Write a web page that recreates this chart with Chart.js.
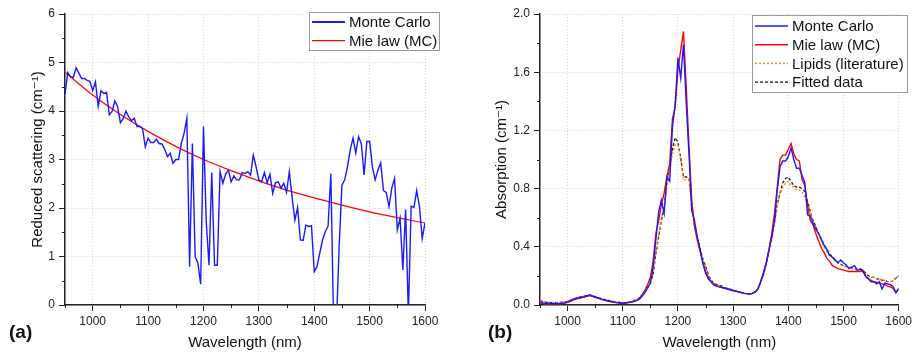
<!DOCTYPE html>
<html>
<head>
<meta charset="utf-8">
<script src="https://cdn.jsdelivr.net/npm/chart.js@4.4.1/dist/chart.umd.min.js"></script>
<style>
  html, body { margin: 0; padding: 0; background: #fff; }
  #wrap { position: relative; width: 915px; height: 356px; }
  canvas { position: absolute; top: 0; }
  #chart-a { left: 0; }
  #chart-b { left: 457px; }
</style>
</head>
<body>
<div id="wrap">
  <canvas id="chart-a" width="457" height="356"></canvas>
  <canvas id="chart-b" width="458" height="356"></canvas>
</div>
<script>
// Longueurs d'onde (nm), pas de 5 nm
const wavelengths = [
  950, 955, 960, 965, 970, 975, 980, 985, 990, 995,
  1000, 1005, 1010, 1015, 1020, 1025, 1030, 1035, 1040, 1045,
  1050, 1055, 1060, 1065, 1070, 1075, 1080, 1085, 1090, 1095,
  1100, 1105, 1110, 1115, 1120, 1125, 1130, 1135, 1140, 1145,
  1150, 1155, 1160, 1165, 1170, 1175, 1180, 1185, 1190, 1195,
  1200, 1205, 1210, 1215, 1220, 1225, 1230, 1235, 1240, 1245,
  1250, 1255, 1260, 1265, 1270, 1275, 1280, 1285, 1290, 1295,
  1300, 1305, 1310, 1315, 1320, 1325, 1330, 1335, 1340, 1345,
  1350, 1355, 1360, 1365, 1370, 1375, 1380, 1385, 1390, 1395,
  1400, 1405, 1410, 1415, 1420, 1425, 1430, 1435, 1440, 1445,
  1450, 1455, 1460, 1465, 1470, 1475, 1480, 1485, 1490, 1495,
  1500, 1505, 1510, 1515, 1520, 1525, 1530, 1535, 1540, 1545,
  1550, 1555, 1560, 1565, 1570, 1575, 1580, 1585, 1590, 1595,
  1600
];

// (a) Diffusion réduite - Monte Carlo
const scatterMC = [
  4.35, 4.79, 4.71, 4.69, 4.89, 4.78, 4.67, 4.67, 4.63, 4.61,
  4.42, 4.60, 4.09, 4.42, 4.36, 4.38, 3.92, 3.99, 4.21, 4.09,
  3.76, 3.84, 4.00, 3.88, 3.80, 3.85, 3.68, 3.68, 3.64, 3.26,
  3.44, 3.35, 3.35, 3.42, 3.33, 3.32, 3.21, 3.06, 3.13, 2.92,
  3.00, 3.00, 3.33, 3.54, 3.85, 0.79, 3.33, 1.00, 0.86, 0.43,
  3.68, 1.72, 0.82, 2.73, 0.82, 0.82, 2.75, 2.51, 2.70, 2.78,
  2.54, 2.66, 2.58, 2.58, 2.73, 2.71, 2.75, 2.68, 3.09, 2.85,
  2.58, 2.54, 2.73, 2.52, 2.70, 2.30, 2.52, 2.54, 2.41, 2.51,
  2.32, 2.75, 2.23, 1.75, 2.01, 1.34, 1.33, 1.65, 1.62, 1.63,
  0.69, 0.79, 1.07, 1.34, 1.51, 1.63, 2.71, -0.4, -0.4, 1.20,
  2.47, 2.58, 2.85, 3.20, 3.44, 3.13, 3.47, 3.33, 2.68, 3.37,
  3.37, 2.85, 2.58, 2.78, 2.93, 2.36, 2.32, 2.03, 2.41, 2.61,
  1.55, 1.79, 0.72, 1.97, -0.2, 2.04, 2.01, 2.36, 2.03, 1.37,
  1.70
];

// (a) Loi de Mie (MC), lue tous les 50 nm
const mieWavelengths = [950, 1000, 1050, 1100, 1150, 1200, 1250, 1300, 1350, 1400, 1450, 1500, 1550, 1600];
const scatterMie = [4.80, 4.33, 3.93, 3.58, 3.27, 3.00, 2.77, 2.56, 2.37, 2.21, 2.06, 1.92, 1.80, 1.69];

// (b) Absorption
const absMC = [
  0.02, 0.015, 0.01, 0.01, 0.01, 0.01, 0.01, 0.01, 0.01, 0.015,
  0.02, 0.03, 0.04, 0.045, 0.05, 0.055, 0.057, 0.062, 0.068, 0.062,
  0.055, 0.048, 0.04, 0.035, 0.03, 0.026, 0.023, 0.02, 0.016, 0.014,
  0.012, 0.013, 0.016, 0.02, 0.023, 0.03, 0.04, 0.06, 0.085, 0.115,
  0.15, 0.26, 0.45, 0.64, 0.72, 0.63, 0.88, 0.85, 1.22, 1.38,
  1.70, 1.56, 1.79, 1.39, 1.04, 0.65, 0.58, 0.47, 0.38, 0.29,
  0.22, 0.18, 0.16, 0.14, 0.13, 0.125, 0.12, 0.115, 0.11, 0.105,
  0.10, 0.095, 0.09, 0.085, 0.08, 0.078, 0.075, 0.08, 0.09, 0.11,
  0.16, 0.22, 0.29, 0.38, 0.47, 0.58, 0.79, 0.95, 0.99, 0.99,
  1.02, 1.08, 1.00, 0.94, 0.94, 0.89, 0.84, 0.62, 0.61, 0.56,
  0.52, 0.49, 0.45, 0.41, 0.38, 0.34, 0.33, 0.31, 0.29, 0.31,
  0.29, 0.275, 0.25, 0.26, 0.27, 0.24, 0.245, 0.23, 0.20, 0.18,
  0.16, 0.16, 0.145, 0.16, 0.11, 0.15, 0.145, 0.14, 0.125, 0.085,
  0.11
];

const absMie = [
  0.015, 0.01, 0.008, 0.007, 0.007, 0.008, 0.008, 0.008, 0.01, 0.013,
  0.018, 0.025, 0.033, 0.04, 0.045, 0.05, 0.055, 0.06, 0.065, 0.06,
  0.053, 0.047, 0.04, 0.035, 0.03, 0.026, 0.022, 0.018, 0.015, 0.013,
  0.012, 0.013, 0.016, 0.02, 0.025, 0.032, 0.045, 0.07, 0.10, 0.14,
  0.19, 0.30, 0.49, 0.58, 0.69, 0.77, 0.88, 0.97, 1.28, 1.36,
  1.62, 1.75, 1.88, 1.50, 1.09, 0.72, 0.54, 0.45, 0.37, 0.30,
  0.23, 0.19, 0.16, 0.14, 0.13, 0.125, 0.12, 0.115, 0.11, 0.105,
  0.10, 0.095, 0.09, 0.085, 0.08, 0.078, 0.075, 0.08, 0.09, 0.11,
  0.16, 0.22, 0.29, 0.38, 0.49, 0.63, 0.81, 1.00, 1.03, 1.03,
  1.07, 1.11, 1.04, 1.00, 0.99, 0.86, 0.82, 0.68, 0.58, 0.55,
  0.49, 0.44, 0.39, 0.36, 0.32, 0.30, 0.27, 0.26, 0.25, 0.245,
  0.24, 0.235, 0.23, 0.23, 0.23, 0.23, 0.23, 0.24, 0.195, 0.18,
  0.17, 0.16, 0.155, 0.15, 0.145, 0.14, 0.13, 0.125, 0.115, 0.085,
  0.115
];

const absLipids = [
  0.03, 0.025, 0.02, 0.018, 0.017, 0.017, 0.017, 0.018, 0.02, 0.022,
  0.026, 0.032, 0.04, 0.046, 0.052, 0.057, 0.061, 0.065, 0.068, 0.064,
  0.058, 0.052, 0.046, 0.04, 0.035, 0.031, 0.027, 0.023, 0.02, 0.018,
  0.017, 0.018, 0.02, 0.024, 0.03, 0.038, 0.05, 0.07, 0.095, 0.125,
  0.16, 0.22, 0.36, 0.48, 0.60, 0.68, 0.82, 0.94, 1.04, 1.10,
  1.10, 1.00, 0.86, 0.86, 0.86, 0.68, 0.54, 0.45, 0.38, 0.31,
  0.26, 0.20, 0.17, 0.15, 0.14, 0.13, 0.125, 0.12, 0.115, 0.11,
  0.10, 0.095, 0.09, 0.085, 0.08, 0.077, 0.075, 0.08, 0.09, 0.11,
  0.16, 0.21, 0.28, 0.37, 0.45, 0.56, 0.68, 0.77, 0.81, 0.84,
  0.85, 0.82, 0.81, 0.79, 0.79, 0.78, 0.74, 0.70, 0.63, 0.57,
  0.53, 0.48, 0.44, 0.40, 0.37, 0.34, 0.32, 0.30, 0.29, 0.275,
  0.27, 0.26, 0.26, 0.25, 0.245, 0.24, 0.245, 0.24, 0.21, 0.195,
  0.19, 0.19, 0.18, 0.18, 0.17, 0.17, 0.16, 0.16, 0.165, 0.185,
  0.20
];

const absFitted = [
  0.03, 0.025, 0.02, 0.018, 0.017, 0.017, 0.017, 0.018, 0.02, 0.022,
  0.026, 0.032, 0.04, 0.046, 0.052, 0.057, 0.061, 0.065, 0.068, 0.064,
  0.058, 0.052, 0.046, 0.04, 0.035, 0.031, 0.027, 0.023, 0.02, 0.018,
  0.017, 0.018, 0.02, 0.024, 0.03, 0.038, 0.05, 0.07, 0.095, 0.125,
  0.15, 0.21, 0.35, 0.47, 0.58, 0.67, 0.84, 0.96, 1.07, 1.15,
  1.12, 1.01, 0.88, 0.88, 0.87, 0.70, 0.55, 0.46, 0.39, 0.32,
  0.27, 0.21, 0.17, 0.15, 0.14, 0.135, 0.13, 0.12, 0.115, 0.11,
  0.10, 0.095, 0.09, 0.085, 0.08, 0.077, 0.075, 0.08, 0.09, 0.11,
  0.16, 0.21, 0.28, 0.37, 0.46, 0.57, 0.69, 0.77, 0.84, 0.87,
  0.88, 0.85, 0.82, 0.81, 0.81, 0.80, 0.78, 0.71, 0.64, 0.58,
  0.54, 0.49, 0.45, 0.41, 0.38, 0.35, 0.33, 0.31, 0.29, 0.28,
  0.27, 0.265, 0.26, 0.255, 0.25, 0.245, 0.25, 0.24, 0.22, 0.20,
  0.19, 0.19, 0.18, 0.18, 0.17, 0.17, 0.16, 0.16, 0.165, 0.185,
  0.20
];

// Graduations
const xTicks = [1000, 1100, 1200, 1300, 1400, 1500, 1600];
const xMinorTicks = [950, 1050, 1150, 1250, 1350, 1450, 1550];
const scatterTicks = [0, 1, 2, 3, 4, 5, 6];
const scatterMinorTicks = [0.5, 1.5, 2.5, 3.5, 4.5, 5.5];
const absTicks = [0, 0.4, 0.8, 1.2, 1.6, 2.0];
const absMinorTicks = [0.2, 0.6, 1.0, 1.4, 1.8];

const FONT = "'Liberation Sans', Arial, 'DejaVu Sans', sans-serif";
const AXIS_COLOR = '#222';
const GRID_COLOR = '#d4d4d4';

Chart.defaults.font.family = FONT;
Chart.defaults.color = '#111';

function toPoints(xs, ys) {
    return xs.map((x, i) => ({ x: x, y: ys[i] }));
}

// Plugin : graduations secondaires, légende encadrée, lettre du panneau
const overlayPlugin = {
    id: 'overlay',
    afterDraw(chart, args, opts) {
        const ctx = chart.ctx;
        const area = chart.chartArea;
        const xs = chart.scales.x;
        const ys = chart.scales.y;
        ctx.save();

        // graduations secondaires
        ctx.strokeStyle = AXIS_COLOR;
        ctx.lineWidth = 1;
        opts.minorX.forEach(v => {
            const px = Math.round(xs.getPixelForValue(v)) + 0.5;
            ctx.beginPath();
            ctx.moveTo(px, area.bottom);
            ctx.lineTo(px, area.bottom + 3);
            ctx.stroke();
        });
        opts.minorY.forEach(v => {
            const py = Math.round(ys.getPixelForValue(v)) + 0.5;
            ctx.beginPath();
            ctx.moveTo(area.left, py);
            ctx.lineTo(area.left - 3, py);
            ctx.stroke();
        });

        // légende
        const lg = opts.legend;
        ctx.fillStyle = '#fff';
        ctx.fillRect(lg.x, lg.y, lg.w, lg.h);
        ctx.strokeStyle = '#9a9a9a';
        ctx.lineWidth = 1;
        ctx.strokeRect(lg.x + 0.5, lg.y + 0.5, lg.w, lg.h);
        ctx.font = '15px ' + FONT;
        ctx.textBaseline = 'middle';
        ctx.textAlign = 'left';
        chart.data.datasets.forEach((ds, i) => {
            const y = lg.y + lg.first + i * lg.step;
            ctx.strokeStyle = ds.borderColor;
            ctx.lineWidth = ds.legendWidth || ds.borderWidth;
            ctx.setLineDash(ds.borderDash || []);
            ctx.beginPath();
            ctx.moveTo(lg.x + 3, y);
            ctx.lineTo(lg.x + 36, y);
            ctx.stroke();
            ctx.setLineDash([]);
            ctx.fillStyle = '#111';
            ctx.fillText(ds.label, lg.x + 40, y + 1);
        });

        // lettre du panneau
        ctx.font = 'bold 19px ' + FONT;
        ctx.fillStyle = '#111';
        ctx.fillText(opts.letter, opts.letterX, 333);

        ctx.restore();
    }
};

function makeScales(yTicks, yTitle, yWidth, yTitlePad, yMax, yFmt) {
    return {
        x: {
            type: 'linear',
            min: 950,
            max: 1600,
            afterBuildTicks: (scale) => { scale.ticks = xTicks.map(v => ({ value: v })); },
            afterFit: (scale) => { scale.height = 51; },
            ticks: { font: { size: 12 }, color: '#222', padding: 3, maxRotation: 0, autoSkip: false, callback: v => String(v) },
            grid: { color: GRID_COLOR, lineWidth: 1, tickColor: AXIS_COLOR, tickLength: 6 },
            border: { color: AXIS_COLOR, width: 1.5, dash: [1, 2] },
            title: { display: true, text: 'Wavelength (nm)', font: { size: 15 }, color: '#111', padding: { top: 0, bottom: 4 } }
        },
        y: {
            type: 'linear',
            min: 0,
            max: yMax,
            afterBuildTicks: (scale) => { scale.ticks = yTicks.map(v => ({ value: v })); },
            afterFit: (scale) => { scale.width = yWidth; },
            ticks: { font: { size: 12 }, color: '#222', padding: 4, callback: yFmt },
            grid: { color: GRID_COLOR, lineWidth: 1, tickColor: AXIS_COLOR, tickLength: 6 },
            border: { color: AXIS_COLOR, width: 1.5, dash: [1, 2] },
            title: { display: true, text: yTitle, font: { size: 15 }, color: '#111', padding: { top: yTitlePad, bottom: 0 } }
        }
    };
}

// Graphique (a)
new Chart(document.getElementById('chart-a').getContext('2d'), {
    type: 'line',
    data: {
        datasets: [
            {
                label: 'Monte Carlo',
                data: toPoints(wavelengths, scatterMC),
                borderColor: '#1a1aff',
                borderWidth: 1.4,
                legendWidth: 2.2,
                pointRadius: 0,
                tension: 0
            },
            {
                label: 'Mie law (MC)',
                data: toPoints(mieWavelengths, scatterMie),
                borderColor: '#ff0000',
                borderWidth: 1.2,
                pointRadius: 0,
                cubicInterpolationMode: 'monotone'
            }
        ]
    },
    options: {
        responsive: false,
        animation: false,
        events: [],
        layout: { padding: { top: 14, right: 32, bottom: 0, left: 0 } },
        plugins: {
            legend: { display: false },
            tooltip: { enabled: false },
            overlay: {
                minorX: xMinorTicks,
                minorY: scatterMinorTicks,
                legend: { x: 309, y: 12, w: 130, h: 38, first: 10, step: 18.7 },
                letter: '(a)',
                letterX: 9
            }
        },
        scales: makeScales(scatterTicks, 'Reduced scattering (cm⁻¹)', 65, 28.5, 6, v => String(v))
    },
    plugins: [overlayPlugin]
});

// Graphique (b)
new Chart(document.getElementById('chart-b').getContext('2d'), {
    type: 'line',
    data: {
        datasets: [
            {
                label: 'Monte Carlo',
                data: toPoints(wavelengths, absMC),
                borderColor: '#1a1aff',
                borderWidth: 1.4,
                pointRadius: 0,
                tension: 0
            },
            {
                label: 'Mie law (MC)',
                data: toPoints(wavelengths, absMie),
                borderColor: '#ff0000',
                borderWidth: 1.4,
                pointRadius: 0,
                tension: 0
            },
            {
                label: 'Lipids (literature)',
                data: toPoints(wavelengths, absLipids),
                borderColor: '#ff8c1a',
                borderWidth: 1.5,
                borderDash: [2, 2],
                pointRadius: 0,
                tension: 0
            },
            {
                label: 'Fitted data',
                data: toPoints(wavelengths, absFitted),
                borderColor: '#111111',
                borderWidth: 1.2,
                borderDash: [3, 2],
                pointRadius: 0,
                tension: 0
            }
        ]
    },
    options: {
        responsive: false,
        animation: false,
        events: [],
        layout: { padding: { top: 14, right: 15, bottom: 0, left: 0 } },
        plugins: {
            legend: { display: false },
            tooltip: { enabled: false },
            overlay: {
                minorX: xMinorTicks,
                minorY: absMinorTicks,
                legend: { x: 295, y: 15, w: 155, h: 77, first: 11, step: 18.7 },
                letter: '(b)',
                letterX: 31
            }
        },
        scales: makeScales(absTicks, 'Absorption (cm⁻¹)', 83, 35.5, 2.0, v => v.toFixed(1))
    },
    plugins: [overlayPlugin]
});
</script>
</body>
</html>
